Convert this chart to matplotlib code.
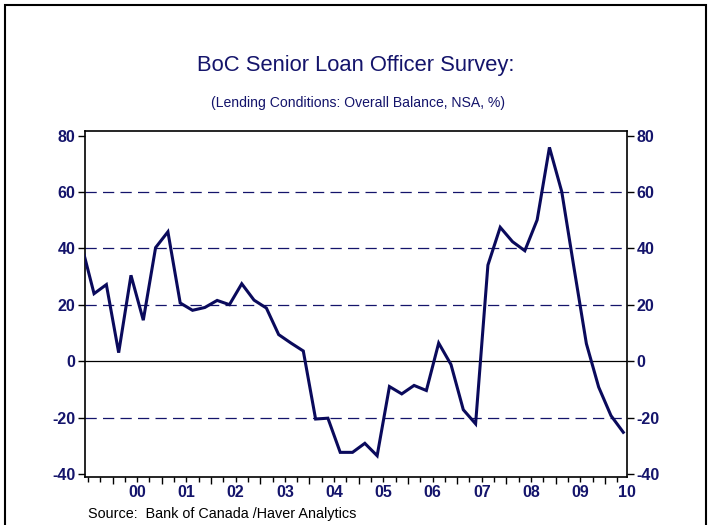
"""BoC Senior Loan Officer Survey: lending conditions, overall balance."""

import matplotlib
matplotlib.use("Agg")
import matplotlib.pyplot as plt
from matplotlib.patches import Rectangle
from matplotlib.ticker import FixedLocator, NullFormatter

NAVY = "#14146b"
LINE = "#0a0a5c"

# quarterly survey values, 1999Q2 .. 2010Q2 (first one falls just off the left edge)
years = [1999] * 3 + [y for y in range(2000, 2010) for _ in range(4)] + [2010] * 2
quarters = [2, 3, 4] + [1, 2, 3, 4] * 10 + [1, 2]
balance = [
    41.0, 24.0, 27.2,
    3.1, 30.5, 14.6, 40.3,
    45.9, 20.7, 18.1, 19.1,
    21.6, 20.1, 27.5, 21.7,
    18.9, 9.5, 6.5, 3.7,
    -20.4, -20.1, -32.2, -32.2,
    -29.0, -33.4, -8.9, -11.5,
    -8.5, -10.3, 6.5, -1.1,
    -17.1, -22.1, 34.1, 47.5,
    42.4, 39.2, 50.1, 75.8,
    60.1, 33.0, 6.3, -9.1,
    -19.2, -25.1,
]
year_labels = ["00", "01", "02", "03", "04", "05", "06", "07", "08", "09", "10"]
label_years = list(range(2000, 2011))
y_ticks = [-40, -20, 0, 20, 40, 60, 80]
grid_levels = [-20, 20, 40, 60]

t = [y + (q - 0.5) / 4 for y, q in zip(years, quarters)]

plt.rcParams["font.family"] = ["Liberation Sans", "DejaVu Sans"]

fig = plt.figure(figsize=(7.12, 5.25), dpi=100)
ax = fig.add_axes([0.120, 0.0905, 0.7606, 0.66])

for lvl in grid_levels:
    ax.axhline(lvl, color=NAVY, lw=0.9, dashes=(9, 5), zorder=1)
ax.axhline(0, color="black", lw=0.9, zorder=1)

ax.plot(t, balance, color=LINE, lw=2.2, solid_joinstyle="miter", zorder=3)

ax.set_xlim(1999.45, 2010.45)
ax.set_ylim(-41.1, 81.6)

ax.set_yticks(y_ticks)
ax.set_yticklabels([str(v) for v in y_ticks])
ax.tick_params(axis="y", which="both", left=True, right=True,
               labelleft=True, labelright=True, direction="out",
               length=5, width=1, colors="black", labelcolor=NAVY,
               labelsize=11.5, pad=2)
for lab in ax.get_yticklabels():
    lab.set_fontweight("bold")

# quarter ticks along the bottom, year boundaries a bit longer
q_ticks = [y + q / 4 for y in range(1999, 2011) for q in range(4)]
q_ticks = [v for v in q_ticks if 1999.45 <= v <= 2010.46]
ax.xaxis.set_major_locator(FixedLocator([v for v in q_ticks if v == int(v)]))
ax.xaxis.set_minor_locator(FixedLocator([v for v in q_ticks if v != int(v)]))
ax.xaxis.set_major_formatter(NullFormatter())
ax.tick_params(axis="x", which="major", direction="out", length=5, width=1)
ax.tick_params(axis="x", which="minor", direction="out", length=3.5, width=1)

for yr, lab in zip(label_years, year_labels):
    x = min(yr + 0.5, 2010.45)
    ax.text(x, -0.022, lab, transform=ax.get_xaxis_transform(),
            ha="center", va="top", fontsize=11.5, fontweight="bold",
            color=NAVY)

for sp in ax.spines.values():
    sp.set_linewidth(1.2)

fig.text(0.5, 1 - 66 / 525, "BoC Senior Loan Officer Survey:",
         ha="center", va="center", fontsize=15.8, color=NAVY)
fig.text(0.503, 1 - 103 / 525, "(Lending Conditions: Overall Balance, NSA, %)",
         ha="center", va="center", fontsize=10.1, color=NAVY)
fig.text(88 / 712, 1 - 514 / 525, "Source:  Bank of Canada /Haver Analytics",
         ha="left", va="center", fontsize=10.4, color="black")

fig.patches.append(Rectangle((5 / 712, -0.05), 701 / 712, 1.05 - 5 / 525,
                             transform=fig.transFigure, fill=False,
                             edgecolor="black", lw=1.5))

fig.savefig("out.png", dpi=100)
